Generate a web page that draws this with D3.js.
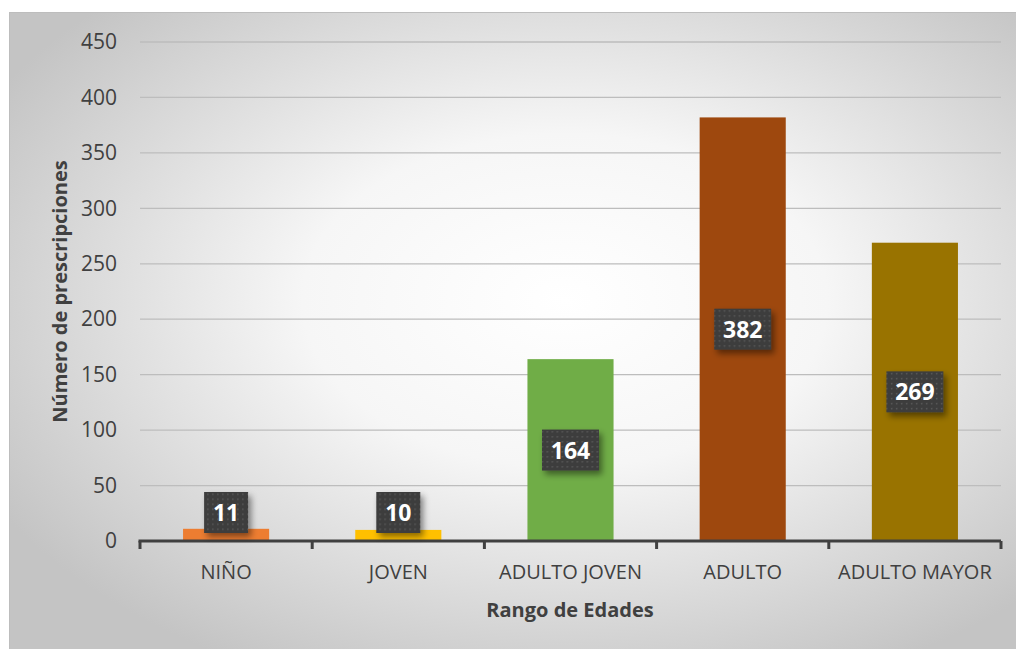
<!DOCTYPE html>
<html>
<head>
<meta charset="utf-8">
<script src="https://cdn.jsdelivr.net/npm/d3@7"></script>
<style>
  body { margin: 0; background: #ffffff; }
  text { font-family: "Open Sans", "DejaVu Sans", sans-serif; }
</style>
</head>
<body>
<div id="chart"></div>
<script>
// data
var categories = ["NIÑO", "JOVEN", "ADULTO JOVEN", "ADULTO", "ADULTO MAYOR"];
var values = [11, 10, 164, 382, 269];
var barColors = ["#ED7D31", "#FFC000", "#70AD47", "#9E480E", "#997300"];
var yTicks = [0, 50, 100, 150, 200, 250, 300, 350, 400, 450];

// svg params
var svgWidth = 1016;
var svgHeight = 649;

var svg = d3.select("#chart").append("svg")
  .attr("width", svgWidth)
  .attr("height", svgHeight);

var defs = svg.append("defs");

// background gradient
var grad = defs.append("radialGradient")
  .attr("id", "bg")
  .attr("cx", "55%")
  .attr("cy", "45%")
  .attr("r", "65%");
grad.append("stop").attr("offset", "0%").attr("stop-color", "#ffffff");
grad.append("stop").attr("offset", "40%").attr("stop-color", "#f6f6f6");
grad.append("stop").attr("offset", "100%").attr("stop-color", "#c4c4c4");

// dotted pattern for the label boxes
var pat = defs.append("pattern")
  .attr("id", "dots")
  .attr("width", 5)
  .attr("height", 5)
  .attr("patternUnits", "userSpaceOnUse");
pat.append("rect").attr("width", 5).attr("height", 5).attr("fill", "#3d3d3d");
pat.append("rect").attr("x", 1).attr("y", 1).attr("width", 1.5).attr("height", 1.5).attr("fill", "#595959");

// shadow
var filt = defs.append("filter")
  .attr("id", "shadow")
  .attr("x", "-30%").attr("y", "-30%")
  .attr("width", "170%").attr("height", "170%");
filt.append("feDropShadow")
  .attr("dx", 3).attr("dy", 4)
  .attr("stdDeviation", 3)
  .attr("flood-color", "#000000")
  .attr("flood-opacity", 0.45);

// chart area
svg.append("rect")
  .attr("x", 9.5)
  .attr("y", 12.5)
  .attr("width", 1010)
  .attr("height", 640)
  .attr("fill", "url(#bg)")
  .attr("stroke", "#bdbdbd")
  .attr("stroke-width", 1);

// plot bounds
var plotLeft = 140, plotRight = 1001, plotTop = 42, plotBottom = 541;

var xScale = d3.scaleBand()
  .domain(categories)
  .range([plotLeft, plotRight])
  .paddingInner(0.5)
  .paddingOuter(0.25);

var yScale = d3.scaleLinear()
  .domain([0, 450])
  .range([plotBottom, plotTop]);

// gridlines
svg.append("g")
  .selectAll("line")
  .data(yTicks.filter(d => d > 0))
  .enter()
  .append("line")
  .attr("x1", plotLeft)
  .attr("x2", plotRight)
  .attr("y1", d => yScale(d))
  .attr("y2", d => yScale(d))
  .attr("stroke", "#bdbdbd")
  .attr("stroke-width", 1.3);

// y axis labels (no axis line)
var yAxis = d3.axisLeft(yScale).tickValues(yTicks).tickSize(0).tickPadding(23);
var yAxisGroup = svg.append("g")
  .attr("transform", `translate(${plotLeft}, 0)`)
  .call(yAxis);
yAxisGroup.select(".domain").remove();
yAxisGroup.selectAll("text")
  .attr("font-size", 21)
  .attr("fill", "#404040")
  .style("font-family", "'Open Sans', sans-serif");

// bars
svg.append("g")
  .selectAll("rect")
  .data(values)
  .enter()
  .append("rect")
  .attr("x", (d, i) => xScale(categories[i]))
  .attr("y", d => yScale(d))
  .attr("width", xScale.bandwidth())
  .attr("height", d => plotBottom - yScale(d))
  .attr("fill", (d, i) => barColors[i]);

// x axis with category boundary ticks
var step = xScale.step();
var bounds = d3.range(categories.length + 1).map(i => plotLeft + i * step);
var xAxisGroup = svg.append("g");
xAxisGroup.append("line")
  .attr("x1", plotLeft - 1.5)
  .attr("x2", plotRight)
  .attr("y1", plotBottom)
  .attr("y2", plotBottom)
  .attr("stroke", "#404040")
  .attr("stroke-width", 3);
xAxisGroup.selectAll(".tick")
  .data(bounds)
  .enter()
  .append("line")
  .attr("x1", d => d)
  .attr("x2", d => d)
  .attr("y1", plotBottom)
  .attr("y2", plotBottom + 8)
  .attr("stroke", "#404040")
  .attr("stroke-width", 3);

xAxisGroup.selectAll(".cat")
  .data(categories)
  .enter()
  .append("text")
  .attr("x", d => xScale(d) + xScale.bandwidth() / 2)
  .attr("y", 579)
  .attr("text-anchor", "middle")
  .attr("font-size", 20)
  .attr("fill", "#404040")
  .text(d => d);

// data labels
var boxH = 41;
var labels = svg.append("g")
  .selectAll("g")
  .data(values)
  .enter()
  .append("g")
  .attr("transform", function(d, i) {
    var cx = xScale(categories[i]) + xScale.bandwidth() / 2;
    var mid = (yScale(d) + plotBottom) / 2;
    var cy = Math.min(mid, plotBottom - 8 - boxH / 2);
    return `translate(${cx}, ${cy})`;
  });

labels.append("rect")
  .attr("x", d => -(18 + 13 * String(d).length) / 2)
  .attr("y", -boxH / 2)
  .attr("width", d => 18 + 13 * String(d).length)
  .attr("height", boxH)
  .attr("fill", "url(#dots)")
  .attr("filter", "url(#shadow)");

labels.append("text")
  .attr("x", 0)
  .attr("y", 8.5)
  .attr("text-anchor", "middle")
  .attr("font-size", 23)
  .attr("font-weight", "bold")
  .attr("fill", "#ffffff")
  .text(d => d);

// axis titles
svg.append("text")
  .attr("x", 570)
  .attr("y", 617)
  .attr("text-anchor", "middle")
  .attr("font-size", 20)
  .attr("font-weight", "bold")
  .attr("fill", "#404040")
  .text("Rango de Edades");

svg.append("text")
  .attr("transform", `translate(67, ${(plotTop + plotBottom) / 2}) rotate(-90)`)
  .attr("text-anchor", "middle")
  .attr("font-size", 20)
  .attr("font-weight", "bold")
  .attr("fill", "#404040")
  .text("Número de prescripciones");
</script>
</body>
</html>
